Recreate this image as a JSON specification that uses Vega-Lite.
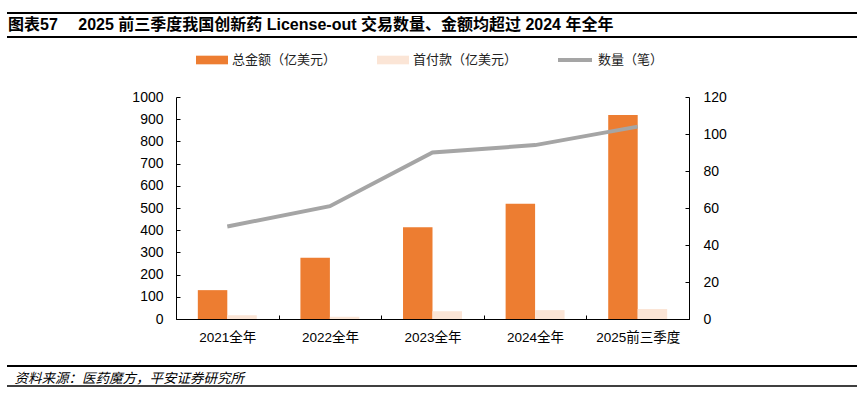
{
  "$schema": "https://vega.github.io/schema/vega-lite/v6.json",
  "width": 513,
  "height": 222,
  "autosize": {"type": "none"},
  "padding": {"left": 176, "top": 97, "right": 176, "bottom": 74},
  "background": "white",
  "config": {
    "font": "Liberation Sans, Noto Sans CJK SC, sans-serif",
    "view": {"stroke": null},
    "axis": {"grid": false, "domainColor": "#000", "tickColor": "#000", "labelColor": "#000", "domainWidth": 1, "tickWidth": 1}
  },
  "title": {
    "text": "图表57　  2025 前三季度我国创新药 License-out 交易数量、金额均超过 2024 年全年",
    "anchor": "start",
    "frame": "group",
    "fontSize": 16,
    "fontWeight": "bold",
    "color": "#000",
    "dx": -168,
    "offset": 0,
    "dy": 21
  },
  "datasets": {
    "amt": [
      {"cat": "2021全年", "series": "总金额（亿美元）", "value": 130},
      {"cat": "2021全年", "series": "首付款（亿美元）", "value": 17},
      {"cat": "2022全年", "series": "总金额（亿美元）", "value": 276},
      {"cat": "2022全年", "series": "首付款（亿美元）", "value": 10},
      {"cat": "2023全年", "series": "总金额（亿美元）", "value": 413},
      {"cat": "2023全年", "series": "首付款（亿美元）", "value": 35},
      {"cat": "2024全年", "series": "总金额（亿美元）", "value": 519},
      {"cat": "2024全年", "series": "首付款（亿美元）", "value": 40},
      {"cat": "2025前三季度", "series": "总金额（亿美元）", "value": 919},
      {"cat": "2025前三季度", "series": "首付款（亿美元）", "value": 45}
    ],
    "cnt": [
      {"cat": "2021全年", "count": 50},
      {"cat": "2022全年", "count": 61},
      {"cat": "2023全年", "count": 90},
      {"cat": "2024全年", "count": 94},
      {"cat": "2025前三季度", "count": 104}
    ]
  },
  "encoding": {
    "x": {
      "field": "cat",
      "type": "nominal",
      "sort": ["2021全年", "2022全年", "2023全年", "2024全年", "2025前三季度"],
      "scale": {"paddingInner": 0, "paddingOuter": 0},
      "axis": {
        "title": "资料来源：医药魔方，平安证券研究所",
        "titleFontStyle": "italic",
        "titleFontWeight": "normal",
        "titleFontSize": 13.5,
        "titleColor": "#000",
        "titleX": -162,
        "titleY": 59,
        "titleAlign": "left",
        "titleAnchor": null,
        "titleBaseline": "middle",
        "labelAngle": 0,
        "labelFontSize": 13.5,
        "labelPadding": 15,
        "tickBand": "extent",
        "tickSize": -4
      }
    }
  },
  "layer": [
    {
      "data": {"name": "amt"},
      "mark": {"type": "bar"},
      "encoding": {
        "xOffset": {
          "field": "series",
          "type": "nominal",
          "scale": {"domain": ["总金额（亿美元）", "首付款（亿美元）"], "paddingOuter": 0.74, "paddingInner": 0}
        },
        "y": {
          "field": "value",
          "type": "quantitative",
          "scale": {"domain": [0, 1000]},
          "axis": {
            "title": null,
            "format": "d",
            "values": [0, 100, 200, 300, 400, 500, 600, 700, 800, 900, 1000],
            "labelFontSize": 14,
            "labelPadding": 17,
            "tickSize": -4
          }
        },
        "color": {
          "field": "series",
          "type": "nominal",
          "scale": {"domain": ["总金额（亿美元）", "首付款（亿美元）"], "range": ["#ED7D31", "#FBE5D6"]},
          "legend": {
            "orient": "none",
            "legendX": 20,
            "legendY": -53,
            "direction": "horizontal",
            "title": null,
            "symbolType": "M-1,-0.27H1V0.27H-1Z",
            "symbolSize": 1024,
            "symbolStrokeWidth": 0,
            "labelFontSize": 13,
            "labelOffset": 4,
            "columnPadding": 40,
            "padding": 0,
            "labelColor": "#222"
          }
        }
      }
    },
    {
      "data": {"name": "cnt"},
      "mark": {"type": "line", "strokeWidth": 4},
      "encoding": {
        "y": {
          "field": "count",
          "type": "quantitative",
          "scale": {"domain": [0, 120]},
          "axis": {
            "orient": "right",
            "title": null,
            "values": [0, 20, 40, 60, 80, 100, 120],
            "labelFontSize": 14,
            "labelPadding": 18,
            "tickSize": -4
          }
        },
        "stroke": {
          "datum": "数量（笔）",
          "scale": {"range": ["#A5A5A5"]},
          "legend": {
            "orient": "none",
            "legendX": 380,
            "legendY": -56,
            "title": null,
            "symbolType": "stroke",
            "symbolSize": 1156,
            "symbolStrokeWidth": 4,
            "labelFontSize": 13,
            "labelOffset": 4,
            "padding": 0,
            "labelColor": "#222"
          }
        }
      }
    },
    {
      "data": {"values": [{}]},
      "mark": {"type": "rule", "color": "#000", "strokeWidth": 2},
      "encoding": {"x": {"value": -169}, "x2": {"value": 681}, "y": {"value": -84}}
    },
    {
      "data": {"values": [{}]},
      "mark": {"type": "rule", "color": "#000", "strokeWidth": 2},
      "encoding": {"x": {"value": -169}, "x2": {"value": 681}, "y": {"value": -60}}
    },
    {
      "data": {"values": [{}]},
      "mark": {"type": "rule", "color": "#000", "strokeWidth": 2},
      "encoding": {"x": {"value": -169}, "x2": {"value": 681}, "y": {"value": 269}}
    },
    {
      "data": {"values": [{}]},
      "mark": {"type": "rule", "color": "#000", "strokeWidth": 1.5},
      "encoding": {"x": {"value": -169}, "x2": {"value": 681}, "y": {"value": 289}}
    }
  ],
  "resolve": {"scale": {"y": "independent"}}
}
